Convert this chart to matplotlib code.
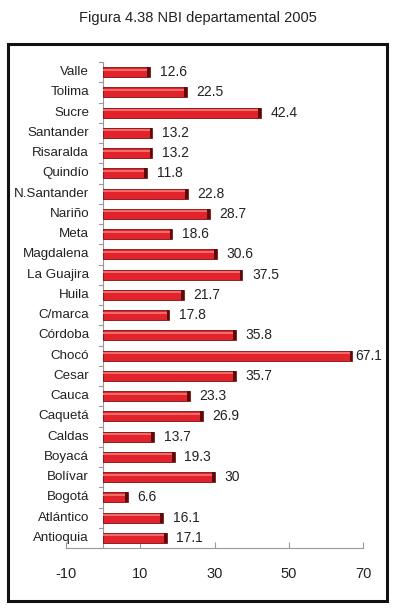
import numpy as np
import matplotlib.pyplot as plt
from matplotlib.patches import Rectangle

plt.rcParams['font.family'] = ['Liberation Sans Narrow', 'Liberation Sans', 'DejaVu Sans']

# datos (de abajo hacia arriba)
departamentos = ['Antioquia', 'Atlántico', 'Bogotá', 'Bolívar', 'Boyacá', 'Caldas',
                 'Caquetá', 'Cauca', 'Cesar', 'Chocó', 'Córdoba', 'C/marca', 'Huila',
                 'La Guajira', 'Magdalena', 'Meta', 'Nariño', 'N.Santander', 'Quindío',
                 'Risaralda', 'Santander', 'Sucre', 'Tolima', 'Valle']
nbi = [17.1, 16.1, 6.6, 30, 19.3, 13.7, 26.9, 23.3, 35.7, 67.1, 35.8, 17.8, 21.7,
       37.5, 30.6, 18.6, 28.7, 22.8, 11.8, 13.2, 13.2, 42.4, 22.5, 12.6]
etiquetas = ['17.1', '16.1', '6.6', '30', '19.3', '13.7', '26.9', '23.3', '35.7', '67.1',
             '35.8', '17.8', '21.7', '37.5', '30.6', '18.6', '28.7', '22.8', '11.8',
             '13.2', '13.2', '42.4', '22.5', '12.6']
xticks = [-10, 10, 30, 50, 70]

W, H = 395, 613
fig = plt.figure(figsize=(W / 100, H / 100), dpi=100)

# marco exterior
fig.patches.append(Rectangle((8 / W, 1 - 601 / H), 379 / W, 557 / H, transform=fig.transFigure,
                             fill=False, edgecolor='#111111', linewidth=2.2))
fig.text(0.5, 1 - 18 / H, 'Figura 4.38 NBI departamental 2005', ha='center', va='center',
         fontsize=10.5, color='#222222')

ax = fig.add_axes([66 / W, 1 - 548 / H, (363 - 66) / W, (548 - 62) / H])
y = np.arange(len(departamentos))

ax.barh(y, nbi, height=0.5, color='#e2232b', edgecolor='#7a1010', linewidth=0.6, zorder=2)
# brillo superior de las barras
ax.barh(y + 0.12, nbi, height=0.1, color='#f26a6a', linewidth=0, zorder=3)
# borde oscuro al final
ax.barh(y, [0.7] * len(nbi), left=np.array(nbi) - 0.7, height=0.5, color='#5a0c0c',
        linewidth=0, zorder=3)

for yi, v, t in zip(y, nbi, etiquetas):
    off = 0.8 if v > 60 else 2.6
    ax.text(v + off, yi, t, va='center', ha='left', fontsize=10, color='#222222')

ax.set_xlim(-10, 70)
ax.set_ylim(-0.5, len(departamentos) - 0.5)
ax.set_xticks(xticks)
ax.set_xticklabels([str(t) for t in xticks], fontsize=10.5, color='#222222')
ax.set_yticks([])
for s in ['top', 'right', 'left']:
    ax.spines[s].set_visible(False)
ax.spines['bottom'].set_color('#999999')
ax.tick_params(axis='x', direction='in', length=4, color='#999999', pad=14)

# eje vertical en 0 con marcas entre categorias
ax.axvline(0, color='#999999', linewidth=0.8, zorder=1)
for b in np.arange(-0.5, len(departamentos), 1.0):
    ax.plot([-1.2, 0], [b, b], color='#999999', linewidth=0.8, clip_on=False)

for yi, d in zip(y, departamentos):
    ax.text(-3.8, yi, d, ha='right', va='center', fontsize=9.6, color='#222222')

plt.savefig('out.png', dpi=100)
